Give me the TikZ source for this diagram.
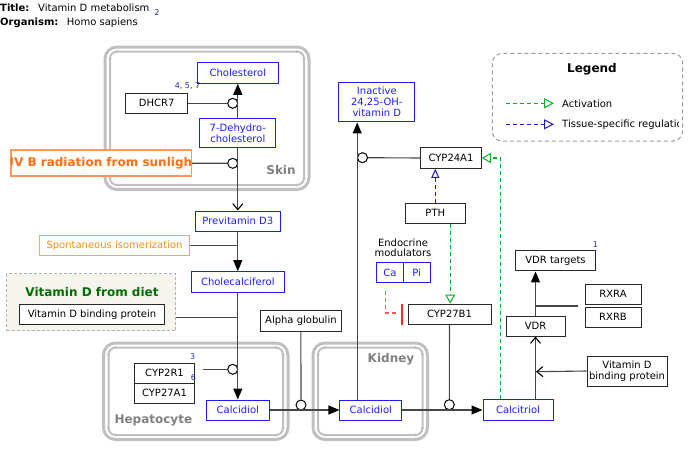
\documentclass[tikz,border=0pt]{standalone}
\usepackage{fontspec}
\setmainfont{DejaVu Sans}
\usetikzlibrary{arrows.meta}
\definecolor{nblue}{RGB}{30,30,250}
\definecolor{bgray}{RGB}{40,40,40}
\definecolor{lgray}{RGB}{70,70,70}
\definecolor{cgray}{RGB}{192,192,192}
\definecolor{uvor}{RGB}{255,110,20}
\definecolor{uvbord}{RGB}{255,150,90}
\definecolor{spor}{RGB}{230,145,30}
\definecolor{spbord}{RGB}{232,175,90}
\definecolor{dietgreen}{RGB}{0,110,0}
\definecolor{dietfill}{RGB}{245,245,238}
\definecolor{labgray}{RGB}{128,128,128}
\definecolor{actgreen}{RGB}{10,175,40}
\definecolor{tisblue}{RGB}{30,30,170}
\definecolor{numblue}{RGB}{40,40,160}
\definecolor{inhred}{RGB}{255,90,90}
\tikzset{
  fsz/.style={font=\fontsize{10}{11}\selectfont},
  box/.style={draw=bgray, line width=1pt, inner sep=0pt, align=center, fsz, text=black, fill=white},
  bbox/.style={box, draw=nblue, text=nblue},
  conn/.style={draw=lgray, line width=1.1pt},
  ftri/.style={-{Triangle[length=11pt,width=9pt,color=black]}},
  obarb/.style={-{Straight Barb[length=6pt,width=10pt,line width=1.1pt,color=black]}},
  knob/.style={circle, draw=black, line width=1pt, fill=white, minimum size=10pt, inner sep=0pt},
  outerc/.style={draw=cgray, line width=3pt, rounded corners=12pt},
  innerc/.style={draw=cgray, line width=2pt, rounded corners=7pt},
  clab/.style={font=\fontsize{12}{14}\selectfont\bfseries, text=labgray, inner sep=0pt},
  num/.style={font=\fontsize{8}{9}\selectfont, text=numblue, inner sep=0pt},
  actline/.style={draw=actgreen, line width=1.1pt, dash pattern=on 4pt off 3pt},
  tisline/.style={draw=tisblue, line width=1.1pt, dash pattern=on 4pt off 3pt},
  otri/.style={-{Triangle[open,length=10pt,width=10pt,line width=1pt]}},
}
\newcommand{\compart}[4]{%
  \draw[outerc] (#1-5,#2-4.5) rectangle (#3+5,#4+4.5);
  \draw[innerc] (#1,#2) rectangle (#3,#4);
  \foreach \px/\py in {#1+7/#2, #3-7/#2, #1+7/#4, #3-7/#4, #1/#2+7, #1/#4-7, #3/#2+7, #3/#4-7}
    \fill[cgray] (\px,\py) circle (1.6pt);
}
\begin{document}
\begin{tikzpicture}[x=1pt,y=-1pt]
\useasboundingbox (0,0) rectangle (697,459);
% title
\node[anchor=west, inner sep=0pt, font=\fontsize{10}{11}\selectfont\bfseries] (tl) at (0,8) {Title:};
\node[anchor=west, inner sep=0pt, fsz] (tt) at (38,8) {Vitamin D metabolism};
\node[num] (tn) at (157,12.3) {2};
\node[anchor=west, inner sep=0pt, font=\fontsize{10}{11}\selectfont\bfseries] (ol) at (0,22.7) {Organism:};
\node[anchor=west, inner sep=0pt, fsz] (ot) at (66.7,22.7) {Homo sapiens};
% compartments
\compart{110}{51.5}{304}{185}
\compart{108.5}{347.5}{283}{435}
\compart{318}{347.5}{422.5}{435}
\node[clab] (skinlab) at (281,170) {Skin};
\node[clab, anchor=west] (heplab) at (114.3,420) {Hepatocyte};
\node[clab] (kidlab) at (391,359) {Kidney};
% legend
\draw[draw=gray!80, line width=1pt, dash pattern=on 4pt off 3pt, rounded corners=10pt] (492.3,53.3) rectangle (682.7,141);
\node[inner sep=0pt, font=\fontsize{12}{14}\selectfont\bfseries] (leg) at (592,69) {Legend};
\coordinate (la1) at (505.7,103.3); \coordinate (la2) at (554,103.3);
\coordinate (lb1) at (505.7,124.3); \coordinate (lb2) at (554,124.3);
\draw[actline, otri] (la1) -- (la2);
\draw[tisline, otri] (lb1) -- (lb2);
\begin{scope}
\clip (492.3,53.3) rectangle (678,141);
\node[anchor=west, inner sep=0pt, fsz] (lat) at (562,103.3) {Activation};
\node[anchor=west, inner sep=0pt, fsz] (lbt) at (562,124.3) {Tissue-specific regulation};
\end{scope}
% diet group
\node[draw=gray!60, dash pattern=on 3pt off 2pt, line width=1pt, fill=dietfill, minimum width=169pt, minimum height=57pt, inner sep=0pt] (diet) at (91.4,302) {};
\node[inner sep=0pt, font=\fontsize{12}{14}\selectfont\bfseries, text=dietgreen] (dietlab) at (92,291.7) {Vitamin D from diet};
\node[box, minimum width=144.6pt, minimum height=20pt] (vdbp) at (92,314.3) {Vitamin D binding protein};
% skin nodes
\node[bbox, minimum width=80.6pt, minimum height=20.6pt] (chol) at (237.8,73) {Cholesterol};
\node[box, minimum width=62pt, minimum height=20.6pt] (dhcr7) at (156.7,103.3) {DHCR7};
\node[num] (n457) at (187.5,86) {4, 5, 7};
\node[bbox, minimum width=76.3pt, minimum height=28.3pt] (dehydro) at (237.8,133.1) {7-Dehydro-\\cholesterol};
\node[draw=uvbord, line width=1.1pt, fill=white, minimum width=180.3pt, minimum height=26pt, inner sep=0pt] (uvb) at (101.1,163) {};
\begin{scope}
\clip (11.5,150.5) rectangle (190.8,175.5);
\node[inner sep=0pt, font=\fontsize{12}{14}\selectfont\bfseries, text=uvor] (uvbt) at (101.1,163) {UV B radiation from sunlight};
\end{scope}
\node[knob] (c1) at (232.7,103.3) {};
\node[knob] (c2) at (232.7,163.3) {};
% middle chain
\node[bbox, minimum width=85pt, minimum height=20pt] (previt) at (237.8,221) {Previtamin D3};
\node[box, draw=spbord, text=spor, minimum width=150.4pt, minimum height=20.3pt] (spont) at (114.5,245.8) {Spontaneous isomerization};
\node[bbox, minimum width=93.3pt, minimum height=20.6pt] (cholec) at (237.8,282) {Cholecalciferol};
\node[box, minimum width=81.7pt, minimum height=20.3pt] (alpha) at (300.9,320.9) {Alpha globulin};
% hepatocyte
\node[box, minimum width=59.6pt, minimum height=20pt] (cyp2r1) at (164.5,373) {CYP2R1};
\node[box, minimum width=59.6pt, minimum height=20pt] (cyp27a1) at (164.5,393) {CYP27A1};
\node[num] (n3) at (192.7,356.7) {3};
\node[num] (n6) at (193.3,377.3) {6};
\node[knob] (c3) at (232.7,369.3) {};
\node[bbox, minimum width=62.6pt, minimum height=20pt] (calcH) at (237.8,410) {Calcidiol};
\node[knob] (c4) at (301,405) {};
% kidney
\node[bbox, minimum width=61.7pt, minimum height=20pt] (calcK) at (370.8,410) {Calcidiol};
\node[bbox, minimum width=75.7pt, minimum height=39.7pt] (inactive) at (376.8,102.1) {Inactive\\24,25-OH-\\vitamin D};
\node[knob] (c5) at (362.5,157.7) {};
\node[box, minimum width=60.6pt, minimum height=20.6pt] (cyp24) at (451,158) {CYP24A1};
\node[box, minimum width=60pt, minimum height=20pt] (pth) at (435.3,213.3) {PTH};
\node[inner sep=0pt, align=center, font=\fontsize{10}{10.3}\selectfont] (endo) at (403,247.8) {Endocrine\\modulators};
\node[bbox, minimum width=26.6pt, minimum height=20.3pt] (ca) at (390,272.8) {Ca};
\node[bbox, minimum width=26.7pt, minimum height=20.3pt] (pi) at (416.7,272.8) {Pi};
\node[box, minimum width=83pt, minimum height=20.3pt] (cyp27b1) at (449.5,314.2) {CYP27B1};
\node[knob] (c6) at (449.3,404.7) {};
\node[bbox, minimum width=70pt, minimum height=20.6pt] (calcitriol) at (518,410) {Calcitriol};
% VDR side
\node[box, minimum width=59pt, minimum height=20pt] (vdr) at (535.5,326) {VDR};
\node[box, minimum width=79.6pt, minimum height=20.3pt] (vdrt) at (555.5,260.8) {VDR targets};
\node[num] (n1) at (595.5,245) {1};
\node[box, minimum width=56pt, minimum height=20.3pt] (rxra) at (613,294.3) {RXRA};
\node[box, minimum width=56pt, minimum height=20.3pt] (rxrb) at (613,317.3) {RXRB};
\node[box, minimum width=80pt, minimum height=30pt] (vdbp2) at (627,371) {Vitamin D\\binding protein};
% coordinates
\coordinate (j1) at (237.8,245.7);
\coordinate (j2) at (237.8,317.7);
\coordinate (vx) at (357.2,0);
\coordinate (vx2) at (450.2,0);
\coordinate (vx3) at (500.5,0);
\coordinate (j3) at (536,371.7);
\coordinate (rj) at (535.5,306);
\coordinate (rx) at (577.5,306);
\coordinate (r1) at (385.8,290.7);
\coordinate (r2) at (385.8,313);
\coordinate (r3) at (397,313);
\coordinate (b1) at (401.7,303.5);
\coordinate (b2) at (401.7,324.5);
% connectors
\draw[conn, ftri] (dehydro.north) -- (chol.south);
\draw[conn, obarb] (dehydro.south) -- (previt.north);
\draw[conn] (dhcr7) -- (c1);
\draw[conn] (uvb) -- (c2);
\draw[conn, ftri] (previt.south) -- (cholec.north);
\draw[conn] (spont.east |- j1) -- (j1);
\draw[conn] (diet.east |- j2) -- (j2);
\draw[conn, ftri] (cholec.south) -- (calcH.north);
\draw[conn] ([xshift=8pt]cyp2r1.east |- c3) -- (c3);
\draw[conn] (alpha.south) -- (c4.north);
\draw[conn, ftri] (calcH.east) -- (calcK.west);
\draw[conn, ftri] (calcK.north -| vx) -- (inactive.south -| vx);
\draw[conn] (cyp24.west) -- (c5.east);
\draw[tisline, -{Triangle[open,length=9pt,width=8pt,line width=1pt]}] (pth.north) -- (pth.north |- cyp24.south);
\draw[actline, -{Triangle[open,length=9pt,width=10pt,line width=1pt]}] (pth.south -| vx2) -- (cyp27b1.north -| vx2);
\draw[draw=inhred, line width=1.1pt, dash pattern=on 4pt off 3pt] (r1) -- (r2) -- (r3);
\draw[draw=red!85!white, line width=2pt] (b1) -- (b2);
\draw[conn] (cyp27b1.south) -- (c6.north);
\draw[conn, ftri] (calcK.east) -- (calcitriol.west);
\draw[actline, -{Triangle[open,length=9pt,width=10pt,line width=1pt]}] (calcitriol.north -| vx3) |- (cyp24.east);
\draw[conn, obarb] (calcitriol.north -| vdr.south) -- (vdr.south);
\draw[conn, obarb] (vdbp2.west) -- (j3);
\draw[conn, ftri] (vdr.north) -- (vdr.north |- vdrt.south);
\draw[conn] (rj) -- (rx);
\end{tikzpicture}
\end{document}
